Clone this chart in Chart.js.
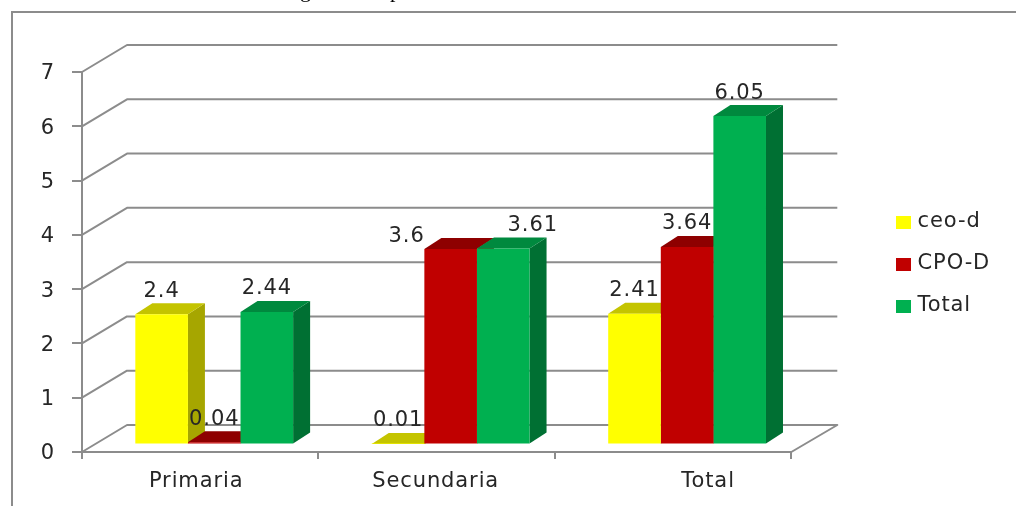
<!DOCTYPE html>
<html>
<head>
<meta charset="utf-8">
<style>html,body{margin:0;padding:0;background:#fff}canvas{display:block}</style>
<script src="https://cdn.jsdelivr.net/npm/chart.js@4"></script>
</head>
<body>
<canvas id="c" width="1016" height="506"></canvas>
<script>
const categories = ['Primaria', 'Secundaria', 'Total'];
const ceoD = [2.4, 0.01, 2.41];
const cpoD = [0.04, 3.6, 3.64];
const total = [2.44, 3.61, 6.05];
const yTicks = [0, 1, 2, 3, 4, 5, 6, 7];

// Colours per series: front face, top face, side face
const faces = [
  {front: '#FFFF00', top: '#C4C400', side: '#A6A600'},
  {front: '#C00000', top: '#8E0000', side: '#8E0000'},
  {front: '#00B050', top: '#00893E', side: '#007033'}
];

const GRID = '#8C8C8C';
const INK = '#262626';
const FONT = '"DejaVu Sans", sans-serif';
const FONT_SIZE = 21;
const TRACKING = '0.9px';

// Box wall depth and the inset/extrusion of the columns
const WALL = {dx: 45, dy: -27};
const BAR_SHIFT = {dx: 14, dy: -7.5};
const BAR_DEPTH = {dx: 17, dy: -11};

// Horizontal shift of the category captions and manual moves of crowded value labels
const captionShift = [-4, -1, 35];
const labelMoves = {'1:1': {dx: -44, dy: 10}, '2:1': {dx: 29.5, dy: 0}};

// Legend swatch: wider than the slot the legend reserves, which tightens the text gap
function swatch(color) {
  const c = document.createElement('canvas');
  c.width = 15;
  c.height = 13;
  const g = c.getContext('2d');
  g.fillStyle = color;
  g.fillRect(0, 0, 15, 13);
  return c;
}

const box3d = {
  id: 'box3d',
  beforeDraw(chart) {
    const {ctx, chartArea: a, scales: {y}} = chart;
    ctx.letterSpacing = TRACKING;
    ctx.save();
    // outer chart frame
    ctx.strokeStyle = GRID;
    ctx.lineWidth = 2;
    ctx.beginPath();
    ctx.moveTo(12, 506);
    ctx.lineTo(12, 12);
    ctx.lineTo(1016, 12);
    ctx.stroke();
    // cropped heading above the frame
    ctx.fillStyle = '#000';
    ctx.font = '22px "Liberation Serif", serif';
    ctx.fillText('g', 300, -3);
    ctx.fillText('p', 390, -3);
    // back wall and side wall gridlines
    ctx.lineJoin = 'round';
    yTicks.forEach(v => {
      const py = y.getPixelForValue(v);
      ctx.beginPath();
      ctx.moveTo(a.left, py);
      ctx.lineTo(a.left + WALL.dx, py + WALL.dy);
      ctx.lineTo(a.right + WALL.dx + 1, py + WALL.dy);
      if (v === 0) ctx.lineTo(a.right, py);
      ctx.stroke();
    });
    ctx.restore();
  },
  beforeDatasetsDraw(chart) {
    const {ctx} = chart;
    ctx.save();
    ctx.translate(BAR_SHIFT.dx, BAR_SHIFT.dy);
    // side and top faces, drawn left to right so neighbours overlap correctly
    categories.forEach((_, j) => {
      faces.forEach((f, i) => {
        const b = chart.getDatasetMeta(i).data[j];
        const l = b.x - b.width / 2, r = b.x + b.width / 2;
        ctx.fillStyle = f.side;
        ctx.beginPath();
        ctx.moveTo(r, b.base);
        ctx.lineTo(r + BAR_DEPTH.dx, b.base + BAR_DEPTH.dy);
        ctx.lineTo(r + BAR_DEPTH.dx, b.y + BAR_DEPTH.dy);
        ctx.lineTo(r, b.y);
        ctx.closePath();
        ctx.fill();
        ctx.fillStyle = f.top;
        ctx.beginPath();
        ctx.moveTo(l, b.y);
        ctx.lineTo(l + BAR_DEPTH.dx, b.y + BAR_DEPTH.dy);
        ctx.lineTo(r + BAR_DEPTH.dx, b.y + BAR_DEPTH.dy);
        ctx.lineTo(r, b.y);
        ctx.closePath();
        ctx.fill();
      });
    });
  },
  afterDatasetsDraw(chart) {
    const {ctx, scales: {x, y}} = chart;
    ctx.restore();
    ctx.save();
    ctx.font = FONT_SIZE + 'px ' + FONT;
    ctx.fillStyle = INK;
    ctx.textAlign = 'center';
    ctx.textBaseline = 'middle';
    // value labels above each column
    chart.data.datasets.forEach((ds, i) => {
      chart.getDatasetMeta(i).data.forEach((b, j) => {
        const mv = labelMoves[i + ':' + j] || {dx: 0, dy: 0};
        ctx.fillText(String(ds.data[j]), b.x + BAR_SHIFT.dx + mv.dx, b.y + BAR_SHIFT.dy - 23 + mv.dy);
      });
    });
    // category captions
    categories.forEach((c, j) => {
      ctx.fillText(c, x.getPixelForTick(j) + captionShift[j], 482);
    });
    // value axis numbers sit a little below their tick marks
    yTicks.forEach(v => {
      ctx.fillText(String(v), 48, y.getPixelForValue(v) + 2);
    });
    ctx.restore();
  },
  afterLayout(chart) {
    // park the legend to the right of the box
    const lg = chart.legend;
    const w = lg.width;
    lg.left = 878;
    lg.right = 878 + w;
    lg.top += 2;
    lg.bottom += 2;
  }
};

new Chart(document.getElementById('c'), {
  type: 'bar',
  data: {
    labels: categories,
    datasets: [
      {label: 'ceo-d', data: ceoD, backgroundColor: faces[0].front},
      {label: 'CPO-D', data: cpoD, backgroundColor: faces[1].front},
      {label: 'Total', data: total, backgroundColor: faces[2].front}
    ]
  },
  options: {
    responsive: false,
    animation: false,
    events: [],
    layout: {padding: {top: 72, right: 107, left: 0, bottom: 0}},
    font: {family: FONT},
    datasets: {bar: {barPercentage: 1, categoryPercentage: 157.5 / 236}},
    plugins: {
      tooltip: {enabled: false},
      legend: {
        position: 'right',
        fullSize: false,
        labels: {
          usePointStyle: true,
          pointStyleWidth: 8,
          padding: 21,
          color: INK,
          font: {family: FONT, size: FONT_SIZE},
          generateLabels(chart) {
            return Chart.defaults.plugins.legend.labels.generateLabels(chart)
              .map((item, i) => ({...item, pointStyle: swatch(faces[i].front)}));
          }
        }
      }
    },
    scales: {
      x: {
        afterFit(s) { s.height = 54; },
        grid: {offset: true, drawOnChartArea: false, drawTicks: true, tickLength: 7, color: GRID, lineWidth: 2},
        border: {color: GRID, width: 2},
        ticks: {display: false}
      },
      y: {
        min: 0,
        max: 7,
        afterFit(s) { s.width = 82; },
        afterBuildTicks(s) { s.ticks = yTicks.map(v => ({value: v})); },
        grid: {drawOnChartArea: false, drawTicks: true, tickLength: 10, color: GRID, lineWidth: 2},
        border: {color: GRID, width: 2},
        ticks: {display: false}
      }
    }
  },
  plugins: [box3d]
});
</script>
</body>
</html>
